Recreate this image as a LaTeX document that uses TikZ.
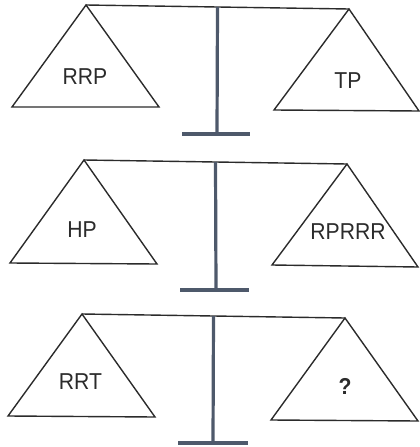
\documentclass[tikz,border=0pt]{standalone}
\usepackage{fontspec}
\setmainfont{Liberation Sans}[FakeStretch=0.92]
\usepackage{xcolor}
\usepackage{tikz}
\usetikzlibrary{calc}
\definecolor{scaleink}{HTML}{2B2B2B}
\definecolor{postgray}{HTML}{4E596B}

\begin{document}
\begin{tikzpicture}[x=1pt,y=-1pt,font=\fontsize{23}{23}\selectfont]
\tikzset{beam/.style={draw=scaleink,line width=1.4pt},
pan/.style={draw=scaleink,line width=1.4pt,line join=miter},
post/.style={draw=postgray,line width=3.2pt},
stand/.style={draw=postgray,line width=4pt},
lbl/.style={anchor=base,inner sep=0pt,text=scaleink}}
\useasboundingbox (0,0) rectangle (420,447);
% top scale
\coordinate (l1) at (86,5);
\coordinate (r1) at (349,9);
\coordinate (m1) at ($(l1)!.5!(r1)$);
\coordinate (f1) at (217,134);
\draw[beam] (l1)--(r1);
\draw[pan] (l1)--++(-74,102)--++(147,0)--cycle;
\draw[pan] (r1)--++(-75,101)--++(145,1)--cycle;
\draw[post] (m1)--(f1);
\draw[stand] ([xshift=-35pt]f1)--([xshift=33pt]f1);
\node[lbl] (w1) at ($(l1)+(-1,79)$) {RRP};
\node[lbl] (v1) at ($(r1)+(-1,79)$) {TP};
% middle scale
\coordinate (l2) at (84,160);
\coordinate (r2) at (347,164);
\coordinate (m2) at ($(l2)!.5!(r2)$);
\coordinate (f2) at (216,290);
\draw[beam] (l2)--(r2);
\draw[pan] (l2)--++(-74,103)--++(147,1)--cycle;
\draw[pan] (r2)--++(-75,101)--++(146,2)--cycle;
\draw[post] (m2)--(f2);
\draw[stand] ([xshift=-36pt]f2)--([xshift=33pt]f2);
\node[lbl] (w2) at ($(l2)+(-2,77)$) {HP};
\node[lbl] (v2) at ($(r2)+(1,75)$) {RPRRR};
% bottom scale
\coordinate (l3) at (82,314);
\coordinate (r3) at (345,318);
\coordinate (m3) at ($(l3)!.5!(r3)$);
\coordinate (f3) at (213,443);
\draw[beam] (l3)--(r3);
\draw[pan] (l3)--++(-74,102)--++(147,1)--cycle;
\draw[pan] (r3)--++(-74,102)--++(147,1)--cycle;
\draw[post] (m3)--(f3);
\draw[stand] ([xshift=-35pt]f3)--([xshift=35pt]f3);
\node[lbl] (w3) at ($(l3)+(-1.5,75)$) {RRT};
\node[lbl] (v3) at ($(r3)+(0,76)$) {\bfseries ?};
\end{tikzpicture}
\end{document}
